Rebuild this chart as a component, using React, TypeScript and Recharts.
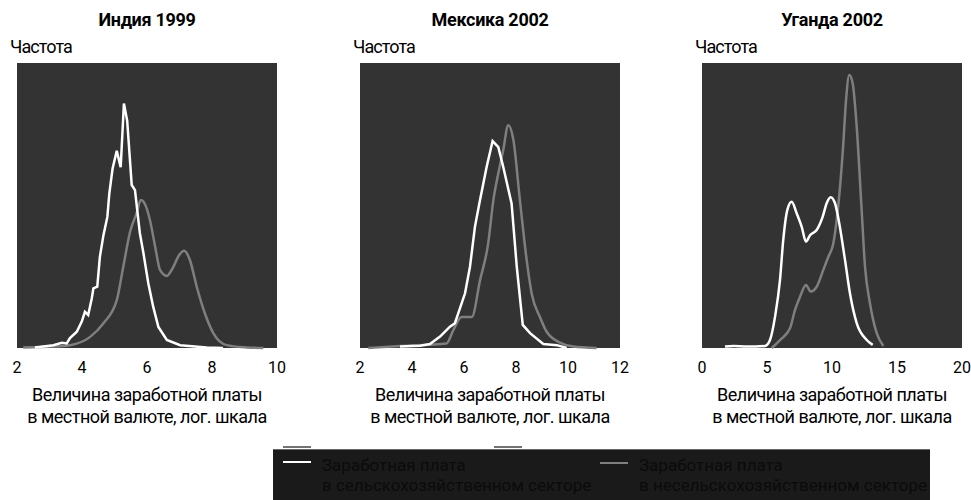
import { CartesianGrid, Line, LineChart, XAxis, YAxis } from "recharts";

const FONT = "Roboto, 'Liberation Sans', sans-serif";
const PLOT_BG = "#333333";
const RURAL = "#ffffff";
const URBAN = "#7f7f7f";

// Индия 1999
const indiaTicks = [2, 4, 6, 8, 10];
const indiaRuralX = [2.55, 3.12, 3.38, 3.53, 3.63, 3.84, 3.99, 4.09, 4.19, 4.3, 4.35, 4.47, 4.55, 4.66, 4.78, 4.84, 4.94, 5.07, 5.19, 5.29, 5.39, 5.53, 5.63, 5.78, 5.89, 6.04, 6.19, 6.35, 6.61, 7.02, 7.84, 8.34];
const indiaRuralF = [0.2, 1.0, 1.8, 1.6, 3.5, 5.7, 9.2, 12.7, 11.6, 17.4, 20.9, 21.5, 32.0, 39.6, 46.0, 54.2, 62.9, 69.2, 63.4, 85.8, 79.8, 57.2, 55.4, 40.3, 33.3, 22.7, 14.5, 7.4, 2.8, 1.0, 0.2, 0];
const indiaUrbanX = [2.19, 3.12, 3.63, 4.25, 4.66, 5.07, 5.27, 5.48, 5.68, 5.81, 5.97, 6.09, 6.25, 6.4, 6.61, 6.81, 6.99, 7.14, 7.32, 7.53, 7.78, 8.04, 8.45, 9.07, 9.58];
const indiaUrbanF = [0.2, 0.5, 1.0, 3.9, 8.7, 16.8, 28.5, 40.8, 47.3, 51.9, 49.6, 44.9, 35.6, 27.4, 25.3, 28.5, 32.6, 34.1, 30.9, 21.5, 12.2, 5.2, 1.0, 0.2, 0];

// Мексика 2002
const mexicoTicks = [2, 4, 6, 8, 10, 12];
const mexicoRuralX = [3.54, 4.31, 4.69, 5.08, 5.46, 5.65, 6.04, 6.23, 6.42, 6.59, 6.87, 7.1, 7.32, 7.51, 7.83, 8.03, 8.26, 8.54, 9.05, 9.57, 9.95];
const mexicoRuralF = [0.5, 0.8, 1.4, 4.0, 7.5, 8.7, 19.2, 28.5, 42.5, 50.7, 63.5, 72.6, 70.5, 63.5, 50.7, 28.5, 8.1, 5.2, 1.4, 1.0, 0];
const mexicoUrbanX = [2.32, 3.54, 5.33, 5.59, 5.91, 6.3, 6.62, 6.93, 7.13, 7.32, 7.51, 7.7, 7.9, 8.15, 8.41, 8.6, 8.92, 9.18, 9.69, 10.2, 11.1];
const mexicoUrbanF = [0, 0.7, 1.6, 6.3, 10.9, 10.9, 23.9, 36.7, 51.9, 61.3, 69.5, 78.2, 73.0, 51.9, 30.9, 19.2, 10.9, 5.7, 1.9, 0.5, 0];

// Уганда 2002
const ugandaTicks = [0, 5, 10, 15, 20];
const ugandaRuralX = [1.77, 2.41, 3.44, 4.85, 5.23, 5.62, 6.0, 6.25, 6.56, 6.9, 7.28, 7.67, 8.0, 8.31, 8.82, 9.28, 9.59, 9.9, 10.23, 10.56, 11.0, 11.38, 11.9, 12.67, 13.13];
const ugandaRuralF = [0.5, 0.7, 0.5, 0.7, 2.8, 11.0, 23.9, 37.9, 48.4, 51.3, 47.3, 42.5, 37.3, 39.6, 41.4, 46.0, 50.8, 52.9, 50.8, 43.7, 30.9, 19.2, 8.7, 2.8, 1.1];
const ugandaUrbanX = [5.36, 6.0, 6.77, 7.15, 7.54, 8.0, 8.36, 8.82, 9.33, 9.72, 10.1, 10.36, 10.62, 10.87, 11.08, 11.33, 11.59, 11.9, 12.28, 12.54, 12.92, 13.44, 13.95];
const ugandaUrbanF = [0, 2.8, 6.9, 13.3, 18.0, 22.1, 19.8, 21.5, 27.4, 32.0, 36.7, 44.9, 56.6, 71.8, 87.0, 95.8, 92.9, 77.7, 48.4, 28.5, 15.7, 5.2, 0.7];

const zip = (xs: number[], fs: number[]) => xs.map((x, i) => ({ x, f: fs[i] }));

type PanelProps = {
  left: number;
  width: number;
  marginRight: number;
  ticks: number[];
  rural: { x: number; f: number }[];
  urban: { x: number; f: number }[];
  ruralType: "linear" | "monotone";
};

function Panel({ left, width, marginRight, ticks, rural, urban, ruralType }: PanelProps) {
  return (
    <div style={{ position: "absolute", left, top: 0 }}>
      <LineChart
        width={width}
        height={380}
        margin={{ top: 63, left: 17, right: marginRight, bottom: 2 }}
      >
        <CartesianGrid horizontal={false} vertical={false} fill={PLOT_BG} stroke="none" />
        <XAxis
          dataKey="x"
          type="number"
          domain={[ticks[0], ticks[ticks.length - 1]]}
          ticks={ticks}
          axisLine={false}
          tickLine={false}
          height={30}
          tickMargin={8}
          tick={{ fill: "#000", fontSize: 16, fontFamily: FONT }}
          interval={0}
          allowDataOverflow
        />
        <YAxis hide domain={[0, 100]} width={0} />
        <Line
          data={urban}
          dataKey="f"
          type="monotone"
          stroke={URBAN}
          strokeWidth={2.5}
          dot={false}
          isAnimationActive={false}
        />
        <Line
          data={rural}
          dataKey="f"
          type={ruralType}
          stroke={RURAL}
          strokeWidth={2.5}
          dot={false}
          isAnimationActive={false}
        />
      </LineChart>
    </div>
  );
}

const titles = ["Индия 1999", "Мексика 2002", "Уганда 2002"];
const centers = [147, 490, 832];
const plotLefts = [17, 360, 702];

export default function App() {
  return (
    <div style={{ position: "absolute", left: 0, top: 0, width: 971, height: 500, background: "#fff", fontFamily: FONT }}>
      <Panel left={0} width={300} marginRight={23} ticks={indiaTicks} rural={zip(indiaRuralX, indiaRuralF)} urban={zip(indiaUrbanX, indiaUrbanF)} ruralType="linear" />
      <Panel left={343} width={300} marginRight={23} ticks={mexicoTicks} rural={zip(mexicoRuralX, mexicoRuralF)} urban={zip(mexicoUrbanX, mexicoUrbanF)} ruralType="linear" />
      <Panel left={685} width={286} marginRight={9} ticks={ugandaTicks} rural={zip(ugandaRuralX, ugandaRuralF)} urban={zip(ugandaUrbanX, ugandaUrbanF)} ruralType="monotone" />
      <svg width={971} height={500} style={{ position: "absolute", left: 0, top: 0, pointerEvents: "none" }}>
        {titles.map((t, i) => (
          <g key={t} fontFamily={FONT} fill="#000">
            <text x={centers[i]} y={26} textAnchor="middle" fontSize={18} fontWeight="bold" letterSpacing={-0.3}>{t}</text>
            <text x={plotLefts[i] - 7} y={53} fontSize={18} letterSpacing={-0.9}>Частота</text>
            <text x={centers[i]} y={401} textAnchor="middle" fontSize={18} letterSpacing={-0.5}>Величина заработной платы</text>
            <text x={centers[i]} y={423} textAnchor="middle" fontSize={18} letterSpacing={-0.5}>в местной валюте, лог. шкала</text>
          </g>
        ))}
        <line x1={283} x2={311} y1={447} y2={447} stroke="#444" strokeWidth={1.5} />
        <line x1={494} x2={522} y1={447} y2={447} stroke="#444" strokeWidth={1.5} />
        <rect x={273} y={449} width={657} height={60} fill="#1a1a1a" />
        <line x1={273} x2={930} y1={449.5} y2={449.5} stroke="#666" strokeWidth={1} />
        <line x1={283} x2={311} y1={462} y2={462} stroke={RURAL} strokeWidth={2} />
        <line x1={600} x2={628} y1={463} y2={463} stroke={URBAN} strokeWidth={2} />
        <g fontFamily={FONT} fontSize={17} fill="#0b0b0b">
          <text x={322} y={471}>Заработная плата</text>
          <text x={322} y={491}>в сельскохозяйственном секторе</text>
          <text x={639} y={471}>Заработная плата</text>
          <text x={639} y={491}>в несельскохозяйственном секторе</text>
        </g>
      </svg>
    </div>
  );
}
